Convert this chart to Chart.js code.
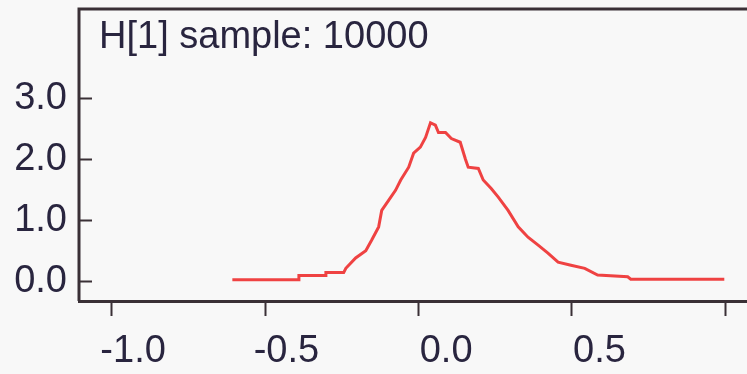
<!DOCTYPE html>
<html>
<head>
<meta charset="utf-8">
<script src="https://cdn.jsdelivr.net/npm/chart.js@4.4.1/dist/chart.umd.min.js"></script>
<style>
	html, body { margin: 0; padding: 0; background: #f8f8f8; }
	#wrap { width: 747px; height: 374px; }
</style>
</head>
<body>
<div id="wrap"><canvas id="density-chart" width="747" height="374"></canvas></div>
<script>
( function() {
	'use strict';

	var titleText = 'H[1] sample: 10000';

	// kernel density of the H[1] samples
	var sampleX = [-0.607, -0.39, -0.39, -0.302, -0.302, -0.244, -0.237, -0.205, -0.172, -0.153,
		-0.13, -0.12, -0.097, -0.075, -0.058, -0.032, -0.016, 0.006, 0.023, 0.039,
		0.055, 0.065, 0.088, 0.107, 0.136, 0.153, 0.162, 0.195, 0.211, 0.237,
		0.26, 0.292, 0.325, 0.357, 0.39, 0.422, 0.455, 0.497, 0.542, 0.584,
		0.682, 0.692, 0.997];
	var density = [0.02, 0.02, 0.09, 0.09, 0.14, 0.14, 0.21, 0.38, 0.50, 0.67,
		0.89, 1.16, 1.33, 1.49, 1.66, 1.87, 2.10, 2.20, 2.36, 2.60,
		2.56, 2.44, 2.44, 2.34, 2.28, 2.00, 1.87, 1.85, 1.66, 1.52,
		1.38, 1.16, 0.89, 0.72, 0.59, 0.46, 0.31, 0.26, 0.21, 0.10,
		0.07, 0.03, 0.03];

	var xTicks = [-1.0, -0.5, 0.0, 0.5, 1.0];
	var xTickLabels = ['-1.0', '-0.5', '0.0', '0.5', ''];
	var yTicks = [0.0, 1.0, 2.0, 3.0];
	var yTickLabels = ['0.0', '1.0', '2.0', '3.0'];

	var inkColor = '#29253f';
	var axisColor = '#3a3036';
	var lineColor = '#ef4242';
	var font = { family: 'Liberation Sans', size: 38 };

	var points = sampleX.map(function(x, i) {
		return { x: x, y: density[i] };
	});

	/**
	 * Caixa do gráfico, marcas do eixo y para dentro e título
	 */
	var framePlugin = {
		id: 'frame',
		afterDraw: function(chart) {
			var ctx = chart.ctx;
			var area = chart.chartArea;
			var yScale = chart.scales.y;

			ctx.save();
			ctx.strokeStyle = axisColor;
			ctx.lineWidth = 3;
			ctx.beginPath();
			ctx.moveTo(area.left, area.bottom);
			ctx.lineTo(area.left, area.top);
			ctx.lineTo(area.right + 2, area.top);
			ctx.stroke();

			ctx.lineWidth = 2;
			ctx.beginPath();
			yTicks.forEach(function(v) {
				var py = Math.round(yScale.getPixelForValue(v)) + 0.5;
				ctx.moveTo(area.left, py);
				ctx.lineTo(area.left + 13, py);
			});
			ctx.stroke();

			ctx.fillStyle = inkColor;
			ctx.font = font.size + 'px ' + font.family;
			ctx.textAlign = 'left';
			ctx.textBaseline = 'alphabetic';
			ctx.fillText(titleText, area.left + 20, area.top + 39);
			ctx.restore();
		}
	};

	var ctx = document.getElementById('density-chart');
	var chart = new Chart(ctx, {
		type: 'line',
		data: {
			datasets: [{
				data: points,
				borderColor: lineColor,
				borderWidth: 3,
				pointRadius: 0,
				tension: 0,
				fill: false
			}]
		},
		options: {
			responsive: false,
			animation: false,
			layout: { autoPadding: false, padding: { top: 9, right: 0, left: 0, bottom: 0 } },
			plugins: {
				legend: { display: false },
				tooltip: { enabled: false }
			},
			scales: {
				x: {
					type: 'linear',
					min: -1.107,
					max: 1.071,
					afterFit: function(scale) {
						scale.height = 73;
						scale.paddingLeft = 0;
						scale.paddingRight = 0;
					},
					afterBuildTicks: function(scale) {
						scale.ticks = xTicks.map(function(v) { return { value: v }; });
					},
					grid: {
						drawOnChartArea: false,
						drawTicks: true,
						tickLength: 15,
						tickWidth: 2,
						color: axisColor
					},
					border: { display: true, color: axisColor, width: 3 },
					ticks: {
						font: font,
						color: inkColor,
						padding: 13,
						align: 'end',
						labelOffset: 54,
						maxRotation: 0,
						autoSkip: false,
						callback: function(value, index) { return xTickLabels[index]; }
					}
				},
				y: {
					min: -0.327,
					max: 4.468,
					afterFit: function(scale) {
						scale.width = 79;
						scale.paddingTop = 0;
						scale.paddingBottom = 0;
					},
					afterBuildTicks: function(scale) {
						scale.ticks = yTicks.map(function(v) { return { value: v }; });
					},
					grid: { display: false, drawTicks: false },
					border: { display: false },
					ticks: {
						font: font,
						color: inkColor,
						padding: 12,
						autoSkip: false,
						callback: function(value, index) { return yTickLabels[index]; }
					}
				}
			}
		},
		plugins: [framePlugin]
	});
})();
</script>
</body>
</html>
